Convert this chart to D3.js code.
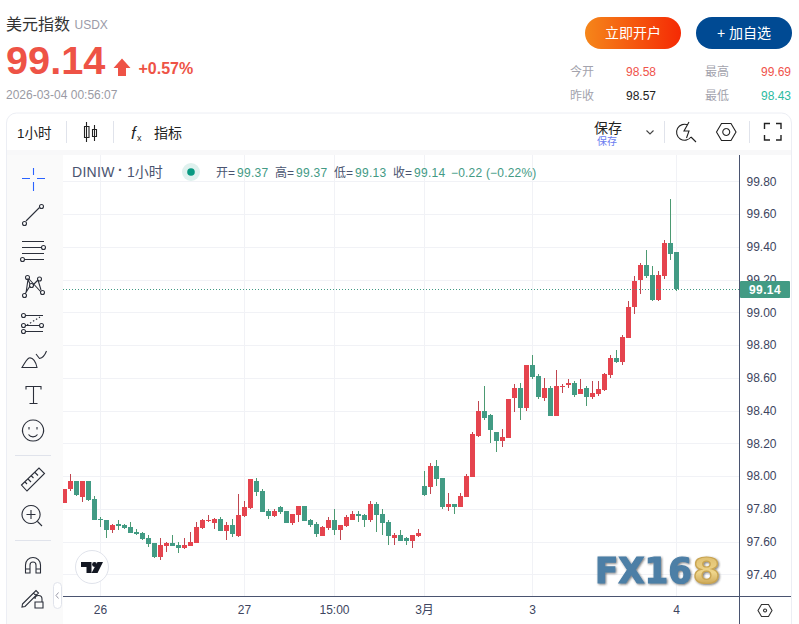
<!DOCTYPE html>
<html><head><meta charset="utf-8">
<script src="https://cdn.jsdelivr.net/npm/d3@7/dist/d3.min.js"></script>
<style>html,body{margin:0;padding:0;background:#fff;overflow:hidden}svg{display:block}text{font-family:"Liberation Sans","Noto Sans CJK SC",sans-serif}</style>
</head><body><svg id="c" width="799" height="624"></svg>
<script>
const opens=[97.836,97.921,97.970,97.873,97.970,97.860,97.738,97.732,97.671,97.708,97.701,97.689,97.659,97.653,97.622,97.592,97.506,97.573,97.592,97.579,97.561,97.573,97.592,97.683,97.726,97.714,97.738,97.665,97.701,97.634,97.756,97.805,97.970,97.909,97.787,97.756,97.811,97.787,97.714,97.762,97.817,97.732,97.708,97.634,97.683,97.732,97.671,97.695,97.732,97.769,97.762,97.732,97.830,97.769,97.720,97.622,97.640,97.622,97.604,97.634,97.939,97.933,98.061,97.988,97.811,97.830,97.811,97.873,97.994,98.245,98.397,98.373,98.269,98.214,98.233,98.477,98.538,98.416,98.678,98.611,98.477,98.538,98.367,98.544,98.556,98.568,98.501,98.538,98.483,98.501,98.526,98.617,98.721,98.696,98.843,99.032,99.197,99.289,99.228,99.075,99.222,99.423,99.369];
const highs=[97.921,98.013,97.970,97.970,97.970,97.879,97.750,97.732,97.708,97.732,97.708,97.720,97.677,97.659,97.640,97.592,97.622,97.598,97.640,97.598,97.622,97.659,97.720,97.738,97.762,97.744,97.750,97.720,97.738,97.891,97.848,97.982,97.988,97.921,97.799,97.799,97.817,97.787,97.769,97.817,97.817,97.738,97.720,97.695,97.750,97.799,97.701,97.762,97.787,97.787,97.769,97.848,97.842,97.799,97.732,97.653,97.671,97.628,97.640,97.677,98.031,98.079,98.098,97.988,97.897,97.830,97.897,98.013,98.269,98.458,98.550,98.379,98.269,98.287,98.471,98.562,98.568,98.678,98.739,98.623,98.599,98.550,98.648,98.562,98.593,98.581,98.593,98.550,98.581,98.581,98.629,98.739,98.770,98.861,99.069,99.222,99.301,99.380,99.283,99.252,99.441,99.692,99.369];
const lows=[97.836,97.909,97.879,97.842,97.848,97.732,97.689,97.622,97.653,97.671,97.677,97.653,97.640,97.610,97.567,97.500,97.488,97.537,97.573,97.531,97.555,97.573,97.592,97.677,97.720,97.677,97.665,97.610,97.628,97.628,97.750,97.799,97.879,97.781,97.738,97.750,97.769,97.714,97.701,97.720,97.726,97.689,97.628,97.634,97.671,97.640,97.610,97.689,97.732,97.720,97.689,97.720,97.659,97.640,97.579,97.579,97.604,97.579,97.561,97.628,97.879,97.891,97.939,97.799,97.787,97.769,97.811,97.873,97.994,98.239,98.342,98.202,98.147,98.178,98.233,98.391,98.342,98.397,98.593,98.471,98.458,98.367,98.367,98.507,98.538,98.483,98.501,98.428,98.471,98.489,98.520,98.599,98.690,98.678,98.843,98.990,99.112,99.209,99.069,99.069,99.203,99.319,99.130];
const closes=[97.921,97.970,97.885,97.970,97.854,97.732,97.732,97.671,97.701,97.695,97.683,97.653,97.647,97.616,97.586,97.506,97.579,97.592,97.573,97.561,97.579,97.598,97.689,97.732,97.732,97.738,97.665,97.701,97.647,97.762,97.811,97.982,97.903,97.781,97.756,97.787,97.781,97.714,97.769,97.817,97.726,97.701,97.647,97.689,97.732,97.671,97.701,97.750,97.769,97.756,97.732,97.830,97.762,97.714,97.634,97.640,97.604,97.604,97.640,97.653,97.885,98.061,97.982,97.811,97.830,97.811,97.879,98.000,98.257,98.397,98.355,98.281,98.214,98.239,98.471,98.538,98.416,98.678,98.605,98.483,98.538,98.367,98.550,98.550,98.568,98.495,98.532,98.483,98.507,98.532,98.623,98.721,98.696,98.849,99.032,99.191,99.289,99.222,99.075,99.228,99.423,99.356,99.140];
const priceTicks=[97.4,97.6,97.8,98.0,98.2,98.4,98.6,98.8,99.0,99.2,99.4,99.6,99.8];
const timeTickIndex=[6,30,45,60,78,102];
const timeTickLabels=["26","27","15:00","3月","3","4"];
const lastPrice=99.14;

const RED="#e5444e",GREEN="#429b84",AXIS="#4a5470",GRID="#f1f2f6";
const svg=d3.select("#c");
const x=d3.scaleLinear().domain([0,102]).range([64.5,676.5]);
const y=d3.scaleLinear().domain([97.4,99.8]).range([574.4,181.3]);
const T=(s,px,py,size,fill,o={})=>svg.append("text").attr("x",px).attr("y",py).attr("font-size",size).attr("fill",fill)
  .attr("font-weight",o.w||400).attr("text-anchor",o.a||"start").attr("letter-spacing",o.ls||null).text(s);

// header
T("美元指数",6,30,16,"#333");
T("USDX",74.5,29,12,"#9a9aa8");
T("99.14",6,74,39.7,"#ee5346",{w:700});
svg.append("path").attr("d","M122 58.5L130.5 68H126V76H118V68H113.5Z").attr("fill","#ee5346");
T("+0.57%",138.5,74,16,"#ee5346",{w:700});
T("2026-03-04 00:56:07",6,99,12,"#9a9aa4");
const defs=svg.append("defs");
const g=defs.append("linearGradient").attr("id","og");
g.append("stop").attr("offset",0).attr("stop-color","#f5861a");
g.append("stop").attr("offset",1).attr("stop-color","#f52a04");
const gold=defs.append("linearGradient").attr("id","gold").attr("x1",0).attr("x2",0).attr("y1",0).attr("y2",1);
gold.append("stop").attr("offset",0).attr("stop-color","#d9b765");
gold.append("stop").attr("offset",.55).attr("stop-color","#efd58a");
gold.append("stop").attr("offset",1).attr("stop-color","#b98e3c");
const sh=defs.append("filter").attr("id","sh").attr("x","-10%").attr("y","-20%").attr("width","125%").attr("height","150%");
sh.append("feDropShadow").attr("dx",1).attr("dy",1).attr("stdDeviation",1).attr("flood-color","#333").attr("flood-opacity",.65);
defs.append("clipPath").attr("id","plot").append("rect").attr("x",63).attr("y",155).attr("width",676).attr("height",441);
svg.append("rect").attr("x",585).attr("y",17).attr("width",96).attr("height",32).attr("rx",16).attr("fill","url(#og)");
svg.append("rect").attr("x",696).attr("y",17).attr("width",96).attr("height",32).attr("rx",16).attr("fill","#004a93");
T("立即开户",633,38,14,"#fff",{a:"middle"});
T("+ 加自选",744,38,14,"#fff",{a:"middle"});
[["今开",570,75.5,"98.58",626,"#f0534b"],["最高",705,75.5,"99.69",761,"#f0534b"],["昨收",570,99.5,"98.57",626,"#222"],["最低",705,99.5,"98.43",761,"#2dbb9f"]].forEach(r=>{
  T(r[0],r[1],r[2],12,"#a3a3ad");T(r[3],r[4],r[2],12,r[5]);
});

// frame & panels
svg.append("rect").attr("x",7).attr("y",150).attr("width",784).attr("height",5).attr("fill","#f8f8f9");
svg.append("rect").attr("x",7).attr("y",155).attr("width",56).attr("height",469).attr("fill","#fafafa");
svg.append("path").attr("d","M6.5 624V123a10 10 0 0 1 10-10H781.5a10 10 0 0 1 10 10V624").attr("fill","none").attr("stroke","#eceef4");

// top toolbar
T("1小时",17,138,13.5,"#222");
[66.5,113.5,664.5,749.5].forEach(s=>svg.append("line").attr("x1",s).attr("x2",s).attr("y1",121).attr("y2",143).attr("stroke","#e0e3eb"));
const ic=(d,o={})=>svg.append("path").attr("d",d).attr("fill",o.f||"none").attr("stroke",o.s||"#222").attr("stroke-width",o.w||1.1).attr("transform",o.t||null);
ic("M86.5 122V142M84.5 126.500h4.500v11h-4.500zM94.500 125V141M92.500 129.500h4v7h-4z");
T("𝑓",131,139,17,"#222");
T("x",137,141,9,"#222");
T("指标",154,138,14,"#222");
T("保存",594,133,14,"#222");
T("保存",597,145,10,"#6b7cf0");
ic("M646.5 130.5L650 134L653.5 130.5",{s:"#444"});
ic("M688 125a8 8 0 1 0 3 12M691 137L696 142M689 122L684 131H689L686.5 138",{});
ic("M716.5 132L721.5 123.5H731L736 132L731 140.5H721.5ZM726.2 128.5a3.5 3.5 0 1 0 .1 0",{});
ic("M764.5 129V123.5H770M776 123.5H781V129M781 135V140H776M770 140H764.5V135",{w:1.4});

// grid
const grid=svg.append("g");
grid.selectAll("line.h").data(priceTicks).join("line").attr("class","h").attr("x1",63).attr("x2",739)
  .attr("y1",d=>Math.round(y(d))+.5).attr("y2",d=>Math.round(y(d))+.5).attr("stroke",GRID);
grid.selectAll("line.v").data(timeTickIndex).join("line").attr("class","v").attr("y1",155).attr("y2",596)
  .attr("x1",d=>x(d)).attr("x2",d=>x(d)).attr("stroke",GRID);

// candles
const cg=svg.append("g").attr("clip-path","url(#plot)");
const idx=d3.range(opens.length);
const col=i=>closes[i]>=opens[i]?RED:GREEN;
cg.selectAll("line.w").data(idx).join("line").attr("class","w")
  .attr("x1",i=>x(i)).attr("x2",i=>x(i)).attr("y1",i=>Math.round(y(highs[i]))).attr("y2",i=>Math.round(y(lows[i])))
  .attr("stroke",i=>closes[i]>=opens[i]?"#c0454f":"#4c9a72");
cg.selectAll("rect.b").data(idx).join("rect").attr("class","b")
  .attr("x",i=>x(i)-2.5).attr("width",5)
  .attr("y",i=>Math.round(y(Math.max(opens[i],closes[i]))))
  .attr("height",i=>Math.max(1,Math.round(y(Math.min(opens[i],closes[i])))-Math.round(y(Math.max(opens[i],closes[i])))))
  .attr("fill",col);

// last price line
const ly=Math.round(y(lastPrice))+.5;
svg.append("line").attr("x1",63).attr("x2",739).attr("y1",ly).attr("y2",ly).attr("stroke",GREEN).attr("stroke-dasharray","1 2");

// axes
const yAxis=d3.axisRight(y).tickValues(priceTicks).tickFormat(d3.format(".2f")).tickSize(0).tickPadding(7);
const ya=svg.append("g").attr("transform","translate(739.5,0)").call(yAxis);
const xAxis=d3.axisBottom(x).tickValues(timeTickIndex).tickFormat((d,i)=>timeTickLabels[i]).tickSize(0).tickPadding(9);
const xa=svg.append("g").attr("transform","translate(-0.5,596.5)").call(xAxis);
[ya,xa].forEach(a=>{a.selectAll("path").remove();a.selectAll("text").attr("font-size",12).attr("fill","#3d4560")
  .style("font-family",'"Liberation Sans","Noto Sans CJK SC",sans-serif');});
svg.append("line").attr("x1",63).attr("x2",791).attr("y1",596.5).attr("y2",596.5).attr("stroke",AXIS);
svg.append("line").attr("x1",739.5).attr("x2",739.5).attr("y1",155).attr("y2",624).attr("stroke",AXIS);
svg.append("rect").attr("x",740).attr("y",ly-8.5).attr("width",50).attr("height",17).attr("rx",1).attr("fill",GREEN);
T("99.14",765,ly+4.2,12,"#fff",{a:"middle",w:700,ls:.4});
ic("M758 610.5L761.5 604.5H768.5L772 610.5L768.5 616.5H761.5ZM765 609a1.5 1.5 0 1 0 .1 0",{s:"#333"});

// legend
T("DINIW",72,177,14,"#4a5470",{ls:.3});
T("·",118,175,14,"#4a5470",{w:700});
T("1小时",127,177,14,"#4a5470");
svg.append("circle").attr("cx",191).attr("cy",172).attr("r",9).attr("fill","#dff1ee");
svg.append("circle").attr("cx",191).attr("cy",172).attr("r",3.8).attr("fill","#089981");
[["开=",216,"99.37",237],["高=",275,"99.37",296],["低=",334,"99.13",355],["收=",393,"99.14",414]].forEach(r=>{
  T(r[0],r[1],177,12,"#4a5470");T(r[2],r[3],177,12,"#439a84",{ls:.3});
});
T("−0.22 (−0.22%)",451,177,12,"#439a84",{ls:.2});

// left tools
const B="#2b2f3a";
ic("M33.5 168V175M33.5 182V191M22 178.5H30M37 178.5H45",{s:"#2962ff"});
ic("M26 221L39.5 207.5",{s:B});
svg.selectAll("circle.t").data([[24.5,223.5],[41.5,206.5],[43.5,247.5],[22.5,259.5],[27.5,277.5],[39.5,279],[24.5,295.5],[42.5,292.5],[31.5,285.5],[23.5,315.5],[23.5,325.5],[23.5,331.5],[41.5,325.5]])
 .join("circle").attr("class","t").attr("cx",d=>d[0]).attr("cy",d=>d[1]).attr("r",2).attr("fill","#fafafa").attr("stroke",B).attr("stroke-width",1.1);
ic("M22 241.5H44M22 247.5H41M22 253.5H44M25 259.5H44",{s:B});
ic("M26 293L28 279.5L30 284M29 279L41 292M38 280L33 285M38 280L41 290M25 294L30 286",{s:B});
ic("M26 315.5H43M26 331.5H43M26 325.5H39",{s:B});
ic("M27 325L40 317",{s:B}).attr("stroke-dasharray","1.5 2");
ic("M22 367.500H37C36 362 33 357 29 358C27 359 24 364 22 367.500ZM36 354L39.500 358.500C42 358 45 355 46.500 351",{s:B});
ic("M26 389.500V386.500H41V389.500M33.500 386.500V403.500M29.500 403.500H37.500",{s:B});
ic("M33 420a10.5 10.5 0 1 0 .1 0ZM29 427v2.500M37 427v2.500M28.500 434.500a5.500 5.500 0 0 0 9 0",{s:B});
svg.append("line").attr("x1",15).attr("x2",51).attr("y1",455.5).attr("y2",455.5).attr("stroke","#e0e3eb");
ic("M21.500 485L39 468L44.500 473.500L27 491ZM25 482l2 2M28 479l3 3M31.500 476l2 2M35 472.500l3 3",{s:B});
ic("M31 505.500a9 9 0 1 0 .1 0ZM37.500 521.500L42 526M31 510v9M26.500 514.500h9",{s:B});
svg.append("line").attr("x1",15).attr("x2",51).attr("y1",540.5).attr("y2",540.5).attr("stroke","#e0e3eb");
ic("M25.500 573V565a7.500 7.500 0 0 1 15 0V573H36V565a3 3 0 0 0 -6 0V573ZM25.500 569H30M36 569H40.500",{s:B});
ic("M22.500 604L36 590.500L38.500 593L25 606.500L22 607ZM33.500 593l3 3M35 599a3 3 0 0 1 7 0V602M35 602h8v6h-8z",{s:B});
svg.append("rect").attr("x",53.5).attr("y",582.5).attr("width",8).attr("height",26).attr("rx",4).attr("fill","#fff").attr("stroke","#e0e3eb");
ic("M58.500 592.500L56 595.500L58.500 598.500",{s:"#9a9aa8",w:1});

// TradingView badge
svg.append("circle").attr("cx",92).attr("cy",567).attr("r",16.5).attr("fill","#fff").attr("stroke","#e0e3eb");
ic("M81 562H91.500V573H86.500V567H81ZM97.500 562H103L97.500 573H91.500Z",{s:"none",f:"#131722"});
svg.append("circle").attr("cx",94.5).attr("cy",564.5).attr("r",2.4).attr("fill","#131722");

// watermark
const wm=svg.append("g").attr("font-weight",700).attr("font-size",35).attr("filter","url(#sh)");
wm.append("text").attr("x",595).attr("y",582.5).attr("textLength",97).attr("lengthAdjust","spacingAndGlyphs").attr("fill","#4d7fa6").attr("stroke","#4d7fa6").attr("stroke-width",1.2).style("font-family","'DejaVu Sans'").text("FX16");
wm.append("text").attr("x",692.5).attr("y",582.5).attr("textLength",28).attr("lengthAdjust","spacingAndGlyphs").attr("fill","url(#gold)").attr("stroke","#c9a552").attr("stroke-width",1.2).style("font-family","'DejaVu Sans'").text("8");
</script></body></html>
